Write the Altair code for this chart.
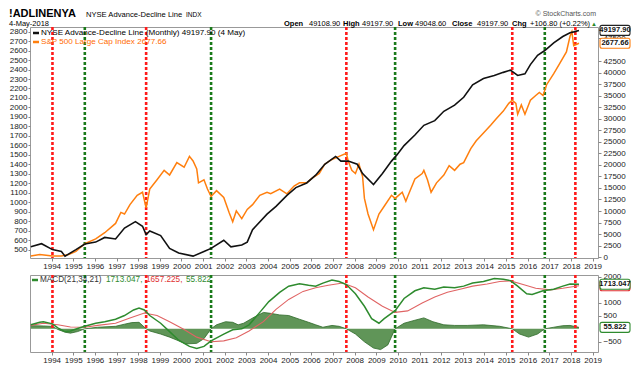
import altair as alt
import pandas as pd

FONT = "Liberation Sans"
W = 568
H1 = 231
H2 = 77

# ---------------- data ----------------
sp_dates = ["1993-01", "1993-06", "1994-01", "1994-06", "1994-10", "1995-02", "1995-07", "1996-01",
            "1996-06", "1996-12", "1997-03", "1997-05", "1997-08", "1997-12", "1998-03", "1998-05",
            "1998-07", "1998-11", "1999-03", "1999-06", "1999-10", "2000-02", "2000-05", "2000-07",
            "2000-09", "2000-10", "2001-01", "2001-03", "2001-05", "2001-08", "2001-12", "2002-03",
            "2002-05", "2002-07", "2002-10", "2003-01", "2003-04", "2003-08", "2003-12", "2004-02",
            "2004-07", "2004-11", "2005-03", "2005-06", "2005-10", "2006-01", "2006-05", "2006-08",
            "2006-12", "2007-04", "2007-08", "2007-09", "2007-11", "2008-01", "2008-03", "2008-05",
            "2008-06", "2008-08", "2008-11", "2009-02", "2009-05", "2009-09", "2009-11", "2010-03",
            "2010-05", "2010-06", "2010-10", "2011-02", "2011-03", "2011-05", "2011-07", "2011-10",
            "2012-02", "2012-05", "2012-08", "2012-11", "2013-01", "2013-05", "2013-08", "2013-12",
            "2014-04", "2014-07", "2014-11", "2015-02", "2015-04", "2015-06", "2015-07", "2015-09",
            "2015-11", "2016-02", "2016-05", "2016-07", "2016-09", "2016-11", "2017-03", "2017-06",
            "2017-10", "2017-12", "2018-01", "2018-02", "2018-05"]
sp_vals = [432, 448, 433, 432, 448, 480, 562, 612,
           678, 776, 892, 875, 974, 1073, 1105, 941,
           1139, 1237, 1336, 1287, 1418, 1369, 1484, 1435,
           1352, 1204, 1237, 1139, 1060, 1122, 1050, 892,
           793, 908, 826, 924, 974, 1073, 1105, 1089,
           1139, 1089, 1171, 1204, 1204, 1253, 1303, 1401,
           1451, 1484, 1517, 1435, 1336, 1303, 1401, 1270,
           1040, 875, 710, 875, 957, 1073, 1040, 1105,
           1010, 1060, 1245, 1303, 1336, 1237, 1105, 1204,
           1287, 1385, 1336, 1401, 1418, 1566, 1648, 1731,
           1813, 1879, 1961, 2043, 2076, 2043, 1928, 2027,
           1928, 2076, 2126, 2158, 2126, 2240, 2356, 2455,
           2586, 2751, 2800, 2652, 2677.66]

ad_dates = ["1993-01", "1993-07", "1994-01", "1994-06", "1994-08", "1995-02", "1995-07", "1996-01",
            "1996-06", "1996-12", "1997-05", "1997-11", "1998-03", "1998-05", "1998-07", "1999-01",
            "1999-06", "1999-11", "2000-07", "2001-01", "2001-05", "2001-12", "2002-04", "2002-10",
            "2003-01", "2003-04", "2003-12", "2004-05", "2004-11", "2005-04", "2005-10", "2006-03",
            "2006-08", "2007-02", "2007-05", "2007-09", "2008-02", "2008-05", "2008-11", "2009-04",
            "2009-09", "2009-12", "2010-04", "2010-10", "2011-03", "2011-09", "2012-02", "2012-08",
            "2013-01", "2013-06", "2013-12", "2014-06", "2014-11", "2015-03", "2015-07", "2015-11",
            "2016-02", "2016-06", "2016-10", "2017-03", "2017-08", "2017-12", "2018-02", "2018-05"]
ad_vals = [2230, 2900, 1620, 1200, 200, 1620, 2840, 3250,
           4260, 3920, 6290, 7700, 6690, 4870, 5680, 4660,
           1890, 870, 200, 1220, 1890, 3650, 2230, 2640,
           3250, 5950, 9330, 11020, 13390, 15080, 16090, 17780,
           20150, 21850, 20830, 20830, 20150, 18120, 15760, 18120,
           20830, 22180, 24200, 26500, 28600, 29610, 31640, 32990,
           34690, 37380, 38740, 39410, 40090, 40570, 39410, 39760,
           41780, 43810, 44830, 46510, 47870, 48680, 48880, 49197.9]

macd_dates = ["1993-01", "1993-06", "1993-08", "1994-01", "1994-04", "1994-08", "1994-11", "1995-03",
              "1995-07", "1996-01", "1996-06", "1996-12", "1997-05", "1997-10", "1998-01", "1998-04",
              "1998-07", "1999-01", "1999-06", "1999-11", "2000-05", "2000-09", "2001-01", "2001-05",
              "2001-12", "2002-05", "2002-10", "2003-02", "2003-08", "2004-01", "2004-07", "2004-12",
              "2005-06", "2005-11", "2006-03", "2006-07", "2006-12", "2007-04", "2007-08", "2008-01",
              "2008-06", "2008-10", "2009-02", "2009-05", "2009-11", "2010-04", "2010-10", "2011-03",
              "2011-09", "2012-02", "2012-08", "2013-01", "2013-06", "2013-12", "2014-06", "2014-11",
              "2015-03", "2015-07", "2015-12", "2016-03", "2016-09", "2017-03", "2017-08", "2017-12",
              "2018-05"]
macd_vals = [154, 250, 275, 190, 36, -107, -82, 10,
             96, 214, 275, 368, 511, 725, 796, 725,
             511, 214, -107, -440, -678, -761, -678, -464,
             -202, -36, 0, 154, 632, 1047, 1404, 1642,
             1738, 1678, 1642, 1760, 1880, 1820, 1703, 1346,
             868, 393, 214, 393, 700, 1167, 1464, 1582,
             1524, 1607, 1582, 1642, 1760, 1820, 1939, 1903,
             1856, 1642, 1346, 1321, 1464, 1524, 1642, 1724,
             1713.047]

sig_dates = ["1993-01", "1993-08", "1994-04", "1994-11", "1995-07", "1996-02", "1996-12", "1997-08",
             "1998-04", "1998-11", "1999-06", "2000-02", "2000-09", "2001-05", "2001-12", "2002-07",
             "2003-02", "2003-10", "2004-05", "2004-12", "2005-08", "2006-03", "2006-10", "2007-06",
             "2008-01", "2008-08", "2009-04", "2009-11", "2010-06", "2011-02", "2011-09", "2012-04",
             "2012-11", "2013-06", "2014-02", "2014-09", "2015-03", "2015-10", "2016-05", "2017-01",
             "2017-08", "2018-05"]
sig_vals = [131, 214, 154, 71, 60, 131, 214, 418,
            607, 511, 275, -24, -321, -500, -464, -345,
            -82, 275, 750, 1131, 1440, 1582, 1678, 1760,
            1582, 1225, 868, 632, 690, 990, 1225, 1404,
            1524, 1642, 1724, 1820, 1845, 1703, 1560, 1500,
            1560, 1657.225]

hist_dates = ["1993-01", "1993-08", "1994-01", "1994-04", "1994-08", "1994-11", "1995-03", "1995-07",
              "1996-02", "1996-12", "1997-05", "1997-09", "1998-01", "1998-05", "1998-07", "1999-01",
              "1999-06", "1999-11", "2000-03", "2000-09", "2001-01", "2001-05", "2001-08", "2002-01",
              "2002-05", "2002-08", "2002-11", "2003-05", "2003-10", "2004-02", "2004-07", "2004-12",
              "2005-06", "2005-11", "2006-03", "2006-07", "2006-12", "2007-04", "2007-08", "2008-01",
              "2008-06", "2008-11", "2009-03", "2009-07", "2009-11", "2010-04", "2010-10", "2011-03",
              "2011-08", "2012-02", "2012-08", "2013-03", "2013-12", "2014-09", "2015-04", "2015-08",
              "2016-01", "2016-06", "2016-10", "2017-03", "2017-08", "2017-12", "2018-05"]
hist_vals = [120, 110, 90, -24, -130, -167, -107, 0,
             60, 96, 178, 238, 250, 0, -84, -202,
             -321, -464, -583, -560, -380, 0, 154, 273,
             250, 154, 214, 452, 630, 595, 535, 511,
             368, 250, 154, 60, 130, 96, 0, -200,
             -500, -740, -800, -620, 0, 214, 330, 420,
             273, 154, 130, 130, 154, 96, 0, -200,
             -320, -200, 0, 60, 120, 130, 55.822]

red_lines = ["1994-01", "1998-05", "2007-08", "2015-04", "2018-03"]
green_lines = ["1995-07", "2001-05", "2009-11", "2016-10"]
years = list(range(1994, 2020))
sp_ticks = list(range(500, 2900, 100))
ad_ticks = [v for v in range(0, 50000, 2500) if v != 45000]
macd_ticks = [-500, 500, 1000, 2000]

# ---------------- frames ----------------
def mid(m):
    return m + "-15"

sp_df = pd.DataFrame({"date": [mid(s) for s in sp_dates], "v": sp_vals})
ad_df = pd.DataFrame({"date": [mid(s) for s in ad_dates], "v": ad_vals})
macd_df = pd.DataFrame({"date": [mid(s) for s in macd_dates], "v": macd_vals})
sig_df = pd.DataFrame({"date": [mid(s) for s in sig_dates], "v": sig_vals})
hist_df = pd.DataFrame({"date": [mid(s) for s in hist_dates], "v": hist_vals})
vl_df = pd.DataFrame({
    "date": [mid(s) for s in red_lines] + [mid(s) for s in green_lines],
    "c": ["#ff1a1a"] * len(red_lines) + ["#1a7a1a"] * len(green_lines),
})

xscale = alt.Scale(domain=[alt.DateTime(year=1993, month=1, date=1),
                           alt.DateTime(year=2019, month=4, date=1)])
xaxis = alt.Axis(values=[alt.DateTime(year=y, month=1, date=1) for y in years], format="%Y",
                 title=None, labelFontSize=8, labelColor="#222", labelFont=FONT,
                 tickSize=3, tickColor="#888", domain=False, grid=False, labelPadding=1,
                 labelOverlap=False)
X = alt.X("date:T", scale=xscale, axis=xaxis)


def label(text, x, y, color="#000", size=8.5, weight="normal", align="left", baseline="middle"):
    return alt.Chart(pd.DataFrame({"t": [text]})).mark_text(
        font=FONT, fontSize=size, fontWeight=weight, color=color, align=align, baseline=baseline
    ).encode(x=alt.value(x), y=alt.value(y), text="t:N")


def swatch(x, y, color):
    return alt.Chart(pd.DataFrame({"t": [0]})).mark_rule(color=color, strokeWidth=2.5).encode(
        x=alt.value(x), x2=alt.value(x + 6), y=alt.value(y))


def rules():
    return alt.Chart(vl_df).mark_rule(strokeWidth=2.6, strokeDash=[3, 2]).encode(
        x=X, color=alt.Color("c:N", scale=None))


def yaxis(orient, values, pad):
    return alt.Axis(orient=orient, values=values, format="d", title=None, grid=False, domain=False,
                    tickSize=2 if orient == "left" else 3, tickColor="#888", labelFontSize=8,
                    labelColor="#222", labelFont=FONT, labelPadding=pad)


def value_box(df, scale, axis, stroke, text_color="#111"):
    Y = alt.Y("v:Q", scale=scale, axis=axis)
    box = alt.Chart(df).mark_rect(fill="white", stroke=stroke, strokeWidth=1.1, cornerRadius=2,
                                  yOffset=-5, y2Offset=5).encode(
        x=alt.value(W + 2), x2=alt.value(W + 32), y=Y, y2=alt.Y2("v:Q"))
    txt = alt.Chart(df).mark_text(font=FONT, fontSize=7.5, fontWeight="bold", color=text_color,
                                  align="center", baseline="middle").encode(
        x=alt.value(W + 17), y=Y, text="t:N")
    return box, txt


# ---------------- main panel ----------------
sp_scale = alt.Scale(domain=[411, 2849], nice=False, zero=False)
ad_scale = alt.Scale(domain=[-200, 49936], nice=False, zero=False)
sp_axis = yaxis("left", sp_ticks, 1)
ad_axis = yaxis("right", ad_ticks, 2)

sp_line = alt.Chart(sp_df).mark_line(color="#ff7f0e", strokeWidth=1.5).encode(
    x=X, y=alt.Y("v:Q", scale=sp_scale, axis=sp_axis))
sp_b, sp_t = value_box(pd.DataFrame({"v": [2677.66], "t": ["2677.66"]}), sp_scale, sp_axis, "#ff7f0e")
sp_layer = alt.layer(sp_line, sp_b, sp_t)

ad_line = alt.Chart(ad_df).mark_line(color="#111", strokeWidth=1.6).encode(
    x=X, y=alt.Y("v:Q", scale=ad_scale, axis=ad_axis))
ad_b, ad_t = value_box(pd.DataFrame({"v": [49197.9], "t": ["49197.90"]}), ad_scale, ad_axis, "#222")
ad_layer = alt.layer(ad_line, ad_b, ad_t)

TY = -10
DY = -1.5
header = [
    label("!ADLINENYA", -21, TY, size=11, weight="bold", baseline="alphabetic"),
    label("NYSE Advance-Decline Line", 56, TY, size=7.6, baseline="alphabetic"),
    label("INDX", 156, TY, size=6.5, baseline="alphabetic"),
    label("© StockCharts.com", W - 2, TY - 1, color="#555", size=7, align="right", baseline="alphabetic"),
    label("4-May-2018", -21, DY, size=7.5, baseline="alphabetic"),
    label("Open", 254, DY, size=7.5, weight="bold", baseline="alphabetic"),
    label("49108.90", 279, DY, size=7.5, baseline="alphabetic"),
    label("High", 313, DY, size=7.5, weight="bold", baseline="alphabetic"),
    label("49197.90", 332, DY, size=7.5, baseline="alphabetic"),
    label("Low", 368, DY, size=7.5, weight="bold", baseline="alphabetic"),
    label("49048.60", 385, DY, size=7.5, baseline="alphabetic"),
    label("Close", 422, DY, size=7.5, weight="bold", baseline="alphabetic"),
    label("49197.90", 447, DY, size=7.5, baseline="alphabetic"),
    label("Chg", 482, DY, size=7.5, weight="bold", baseline="alphabetic"),
    label("+106.80 (+0.22%)", 500, DY, size=7.5, baseline="alphabetic"),
    label("▲", 561, DY, color="#2a8a2a", size=6, baseline="alphabetic"),
    swatch(3, 6, "#111"),
    label("NYSE Advance-Decline Line (Monthly) 49197.90 (4 May)", 11, 6, size=8.1),
    swatch(3, 15, "#ff7f0e"),
    label("S&P 500 Large Cap Index 2677.66", 11, 15, color="#ff6a00", size=8.1),
]

main = alt.layer(rules(), sp_layer, ad_layer, *header).resolve_scale(y="independent").properties(
    width=W, height=H1)

# ---------------- MACD panel ----------------
m_scale = alt.Scale(domain=[-893, 2071], nice=False, zero=False)
m_axis = yaxis("right", macd_ticks, 2)
MY = alt.Y("v:Q", scale=m_scale, axis=m_axis)

hist = alt.Chart(hist_df).mark_area(color="#4f8a46", opacity=0.9,
                                    line={"color": "#2d6a28", "strokeWidth": 0.8}).encode(
    x=X, y=alt.Y("v:Q", scale=m_scale, axis=m_axis, stack=None), y2=alt.datum(0))
sig_line = alt.Chart(sig_df).mark_line(color="#e06464", strokeWidth=1.1).encode(x=X, y=MY)
macd_line = alt.Chart(macd_df).mark_line(color="#2e8b2e", strokeWidth=1.5).encode(x=X, y=MY)
s_b, s_t = value_box(pd.DataFrame({"v": [1657.225], "t": [""]}), m_scale, m_axis, "#e03030")
m_b, m_t = value_box(pd.DataFrame({"v": [1713.047], "t": ["1713.047"]}), m_scale, m_axis, "#2e8b2e")
h_b, h_t = value_box(pd.DataFrame({"v": [55.822], "t": ["55.822"]}), m_scale, m_axis, "#2e8b2e")

macd_legend = [
    swatch(2, 5, "#2e8b2e"),
    label("MACD(21,34,21)", 10, 5, color="#333", size=8.2),
    label("1713.047,", 76, 5, color="#2e8b2e", size=8.2),
    label("1657.225,", 116, 5, color="#e03030", size=8.2),
    label("55.822", 156, 5, color="#2e8b2e", size=8.2),
]

macd = alt.layer(hist, rules(), sig_line, macd_line, s_b, m_b, m_t, h_b, h_t, *macd_legend).properties(
    width=W, height=H2)

chart = alt.vconcat(main, macd, spacing=1).properties(
    padding={"left": 0, "top": -1, "right": 0, "bottom": 0}
).configure_view(stroke="#999", strokeWidth=1)

chart.save("out.html", embed_options={"renderer": "svg", "actions": False})
